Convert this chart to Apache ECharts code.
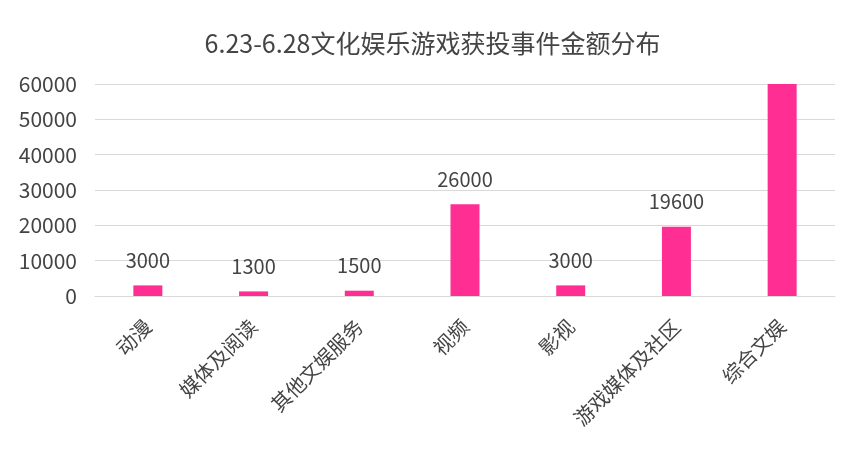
<!DOCTYPE html>
<html><head><meta charset="utf-8">
<script src="https://cdn.jsdelivr.net/npm/echarts@6/dist/echarts.min.js"></script>
<style>html,body{margin:0;padding:0;background:#fff}#c{width:865px;height:453px}</style>
</head><body><div id="c"></div>
<script>
var titleText = '6.23-6.28文化娱乐游戏获投事件金额分布';
var categories = ['动漫','媒体及阅读','其他文娱服务','视频','影视','游戏媒体及社区','综合文娱'];
var values = [3000, 1300, 1500, 26000, 3000, 19600, 60000];
var showLabel = [true, true, true, true, true, true, false];
var yTicks = [0, 10000, 20000, 30000, 40000, 50000, 60000];

var font = '"Noto Sans CJK SC", "Noto Sans", sans-serif';
var chart = echarts.init(document.getElementById('c'));
chart.setOption({
  backgroundColor: '#fff',
  title: {text: titleText, left: 'center', top: 26,
    textStyle: {fontFamily: font, fontSize: 25, fontWeight: 'normal', color: '#444'}},
  grid: {left: 95, right: 30, top: 84, bottom: 157, containLabel: false},
  xAxis: {type: 'category', data: categories,
    axisLine: {lineStyle: {color: '#d9d9d9'}}, axisTick: {show: false},
    axisLabel: {rotate: 45, interval: 0, fontFamily: font, fontSize: 20, color: '#444', margin: 27}},
  yAxis: {type: 'value', min: yTicks[0], max: yTicks[yTicks.length-1], interval: 10000,
    axisLine: {show: false}, axisTick: {show: false},
    splitLine: {lineStyle: {color: '#d9d9d9'}},
    axisLabel: {fontFamily: font, fontSize: 21, color: '#444', margin: 18,
      formatter: function(v){ return String(v); }}},
  series: [{type: 'bar', barWidth: 29,
    data: values.map(function(v, i){ return {value: v, label: {show: showLabel[i]}}; }),
    itemStyle: {color: '#FF2E93'},
    label: {position: 'top', distance: 15, fontFamily: font, fontSize: 20, color: '#444'}}]
});
</script></body></html>
